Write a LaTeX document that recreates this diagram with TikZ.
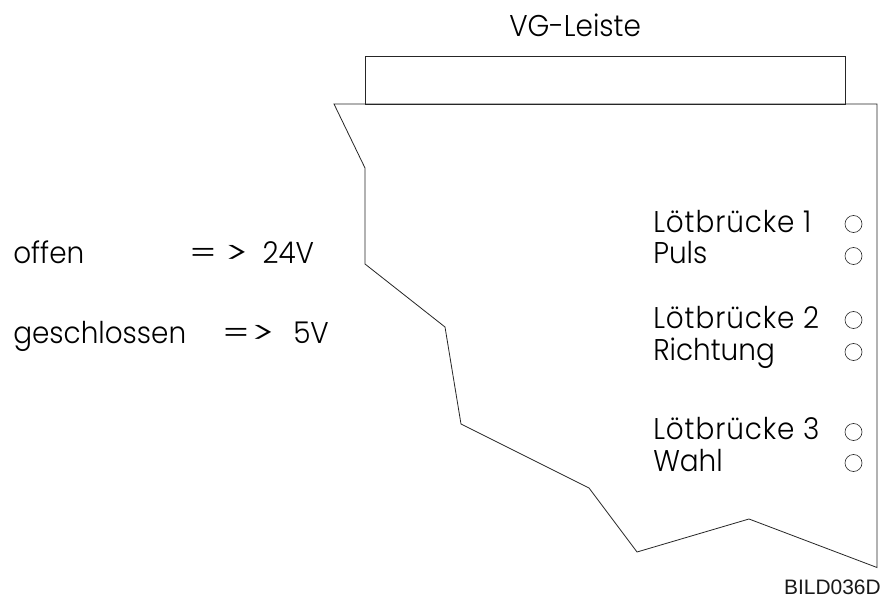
\documentclass[tikz,border=0pt]{standalone}
\usepackage{fontspec}
\usepackage{graphicx}
\setmainfont{Poppins}[UprightFont=* Light,FakeStretch=0.93]
\newfontfamily\labelfont{Liberation Sans}
\newcommand{\wideeq}{\scalebox{1.45}[1]{=}}
\newcommand{\widegt}{\scalebox{1.75}[1]{>}}
\tikzset{
  lbl/.style={inner sep=0pt,anchor=base west,font=\fontsize{22.5}{26}\selectfont,text=black},
  bridge/.style={lbl,font=\fontsize{22.5}{26}\selectfont\addfontfeature{LetterSpace=3}},
  pad/.style={circle,draw=black!85,line width=0.45pt,minimum size=12.75pt,inner sep=0pt},
  edge/.style={draw=black!85,line width=0.6pt,line join=miter},
}
\begin{document}
\begin{tikzpicture}[x=0.75pt,y=-0.75pt]
\useasboundingbox (0,0) rectangle (883,599);
\fill[white] (0,0) rectangle (883,599);
\node[lbl] (title) at (509,36.5) {VG-Leiste};
\draw[edge] (334,104) -- (877,104) -- (877,567.5) -- (749,519) -- (637,552) -- (589,488) -- (461,424) -- (445,327) -- (365,264) -- (365,168) -- cycle;
\node[edge,draw,minimum width=360pt,minimum height=36pt,inner sep=0pt,anchor=north west] (bar) at (365.3,56) {};
\node[bridge] (t1) at (653,232.5) {Lötbrücke 1};
\node[lbl] (t2) at (653,264) {Puls};
\node[bridge] (t3) at (653,328.5) {Lötbrücke 2};
\node[lbl] (t4) at (653,360) {Richtung};
\node[bridge] (t5) at (653,439.5) {Lötbrücke 3};
\node[lbl] (t6) at (653,471) {Wahl};
\node[pad] (p1) at (853.5,224) {};
\node[pad] (p2) at (853.5,256) {};
\node[pad] (p3) at (853.5,320) {};
\node[pad] (p4) at (853.5,352) {};
\node[pad] (p5) at (853.5,432) {};
\node[pad] (p6) at (853.5,463) {};
\node[lbl] (o1) at (13,264) {offen};
\node[lbl] (o2) at (189,264) {\wideeq\hspace{6pt}\widegt\hspace{10.5pt}24V};
\node[lbl] (g1) at (13,343.5) {geschlossen};
\node[lbl] (g2) at (222,343.5) {\wideeq\hspace{1pt}\widegt};
\node[lbl] (g3) at (293,343.5) {5V};
\node[inner sep=0pt,anchor=base east,font=\labelfont\fontsize{15.7}{18}\selectfont,text=black!90] (id) at (881,594) {BILD036D};
\end{tikzpicture}
\end{document}
